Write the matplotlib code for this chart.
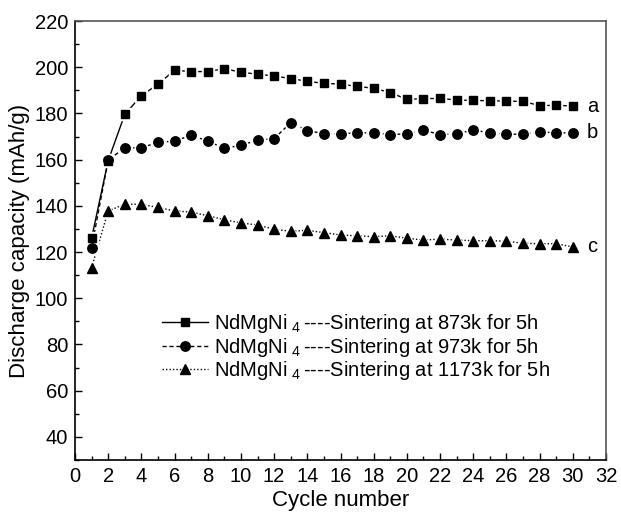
import matplotlib
matplotlib.use("Agg")
import matplotlib.pyplot as plt
from matplotlib.ticker import MultipleLocator
from matplotlib.lines import Line2D

plt.rcParams['font.family'] = ['Liberation Sans', 'DejaVu Sans']
plt.rcParams['mathtext.fontset'] = 'custom'
plt.rcParams['mathtext.rm'] = 'Liberation Sans'

cycles = list(range(1, 31))
cap_a = [126, 159.6, 179.6, 187.7, 192.6, 198.7, 198.1, 198.1, 199.4, 197.8,
         197.0, 196.2, 195.1, 193.9, 193.0, 192.7, 191.7, 190.9, 189.0, 186.1,
         186.4, 186.5, 185.8, 185.6, 185.5, 185.3, 185.2, 183.4, 183.5, 183.2]
cap_b = [121.9, 159.8, 165.1, 165.1, 167.5, 168.0, 170.6, 168.0, 164.9, 166.2,
         168.4, 169.1, 176.0, 172.6, 171.2, 171.2, 171.6, 171.6, 170.8, 171.2,
         172.8, 170.8, 171.2, 172.8, 171.6, 171.0, 171.0, 172.0, 171.6, 171.6]
cap_c = [113.2, 137.8, 140.7, 140.7, 139.3, 137.8, 137.3, 135.7, 134.0, 132.6,
         131.7, 129.9, 129.0, 129.4, 128.4, 127.4, 127.0, 126.7, 127.0, 126.0,
         125.2, 125.6, 125.2, 124.9, 124.9, 124.7, 123.8, 123.6, 123.6, 122.2]
labels = ["NdMgNi$_{\\ 4}\\,$----Sintering at 873k for 5h",
          "NdMgNi$_{\\ 4}\\,$----Sintering at 973k for 5h",
          "NdMgNi$_{\\ 4}\\,$----Sintering at 1173k for 5h"]
curve_tags = ["a", "b", "c"]

fig = plt.figure(figsize=(6.21, 5.12), dpi=100)
ax = fig.add_axes([75/621, 1-460/512, (606-75)/621, (460-21)/512])

styles = [('-', 's', 6.2), ((0, (3, 2)), 'o', 6.8), ((0, (1, 1.5)), '^', 7.5)]
handles = []
for ys, (ls, mk, ms), lab in zip([cap_a, cap_b, cap_c], styles, labels):
    ax.plot(cycles, ys, color='black', linestyle=ls, linewidth=1.0, zorder=2)
    # white halo to emulate gap-to-symbol
    ax.plot(cycles, ys, linestyle='none', marker=mk, markersize=ms + 2.5,
            color='white', markeredgecolor='white', zorder=3)
    ax.plot(cycles, ys, linestyle='none', marker=mk, markersize=ms,
            color='black', zorder=4)
    handles.append(Line2D([0], [0], color='black', linestyle=ls, linewidth=1.0,
                          marker=mk, markersize=ms, markerfacecolor='black'))

for ys, tag in zip([cap_a, cap_b, cap_c], curve_tags):
    ax.text(30.85, ys[-1], tag, fontsize=14.5, va='center', ha='left')

ax.set_xlim(0, 32)
ax.set_ylim(30, 220)
ax.xaxis.set_major_locator(MultipleLocator(2))
ax.xaxis.set_minor_locator(MultipleLocator(1))
ax.set_yticks(list(range(40, 221, 20)))
ax.yaxis.set_minor_locator(MultipleLocator(10))
ax.tick_params(which='both', direction='in', top=False, right=False,
               labelsize=14.5, width=1.0, pad=5)
ax.tick_params(which='major', length=5)
ax.tick_params(which='minor', length=3)
for s in ax.spines.values():
    s.set_linewidth(1.2)
ax.spines['top'].set_color('#555555')
ax.spines['right'].set_color('#555555')

ax.set_xlabel("Cycle number", fontsize=16, labelpad=3)
ax.set_ylabel("Discharge capacity (mAh/g)", fontsize=16, labelpad=3)

leg = ax.legend(handles, labels, loc='upper left', bbox_to_anchor=(0.148, 0.355),
                frameon=False, fontsize=14.5, handlelength=2.3, handletextpad=0.3,
                labelspacing=0.02, borderaxespad=0)

fig.savefig("out.png", dpi=100)
